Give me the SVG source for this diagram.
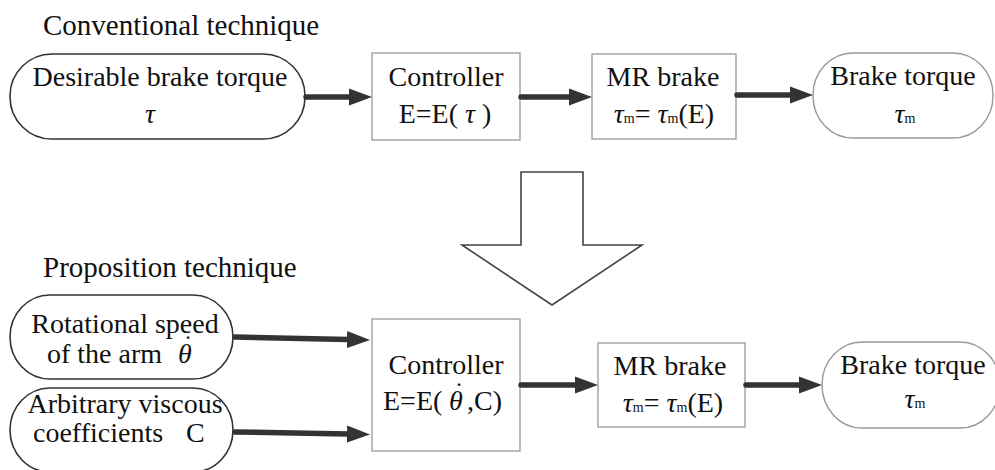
<svg xmlns="http://www.w3.org/2000/svg" width="995" height="470" viewBox="0 0 995 470" font-family="'Liberation Serif', 'Times New Roman', Times, 'DejaVu Serif', serif">
  <style>
    text { font-family: "Liberation Serif", "Times New Roman", Times, "DejaVu Serif", serif; font-size: 28px; fill: #111; }
    .title { font-size: 29px; }
    .c { text-anchor: middle; }
    .gr { font-style: italic; }
    .sub { font-size: 14px; }
    .dot { font-size: 26px; font-style: normal; }
    .term { fill: #fff; stroke: #333; stroke-width: 1.6; }
    .termL { fill: #fff; stroke: #999; stroke-width: 1.4; }
    .box { fill: #fff; stroke: #a0a0a0; stroke-width: 1.4; }
    .link { fill: none; stroke: #333; stroke-width: 5.5; stroke-linecap: round; marker-end: url(#head); }
    .big { fill: #fff; stroke: #444; stroke-width: 1.6; stroke-linejoin: miter; }
  </style>
  <defs>
    <marker id="head" markerUnits="userSpaceOnUse" markerWidth="26" markerHeight="20" viewBox="0 -10 26 20" refX="1" refY="0" orient="auto">
      <path d="M0,-8.5 L23,0 L0,8.5 z" fill="#333"/>
    </marker>
  </defs>

  <!-- section titles -->
  <text class="title" x="43" y="35">Conventional technique</text>
  <text class="title" x="43" y="277">Proposition technique</text>

  <!-- conventional chain -->
  <g id="desired-torque">
    <rect class="term" x="10" y="54" width="295" height="85" rx="42" ry="42"/>
    <text class="c" x="160" y="86">Desirable brake torque</text>
    <text class="c gr" x="150" y="123">τ</text>
  </g>
  <g id="controller-1">
    <rect class="box" x="372" y="53" width="148" height="87"/>
    <text class="c" x="446" y="86">Controller</text>
    <text class="c" x="445" y="123">E=E( <tspan class="gr">τ</tspan> )</text>
  </g>
  <g id="mr-brake-1">
    <rect class="box" x="592" y="54" width="144" height="85"/>
    <text class="c" x="663" y="86">MR brake</text>
    <text class="c" x="664" y="123"><tspan class="gr">τ</tspan><tspan class="sub">m</tspan>= <tspan class="gr">τ</tspan><tspan class="sub">m</tspan>(E)</text>
  </g>
  <g id="brake-torque-1">
    <rect class="termL" x="813" y="53" width="180" height="85" rx="40" ry="42"/>
    <text class="c" x="903" y="85">Brake torque</text>
    <text class="c" x="905" y="123"><tspan class="gr">τ</tspan><tspan class="sub">m</tspan></text>
  </g>

  <!-- transition arrow between the two techniques -->
  <g id="transition">
    <polygon class="big" points="521,172 583,172 583,245 642,245 552,305 462,245 521,245"/>
  </g>

  <!-- proposed chain -->
  <g id="rotational-speed">
    <rect class="term" x="10" y="295" width="223" height="84" rx="40" ry="42"/>
    <text class="c" x="125" y="333">Rotational speed</text>
    <text x="47" y="363">of the arm<tspan class="gr" x="178">θ</tspan><tspan class="dot" dx="-8" dy="-10">˙</tspan></text>
  </g>
  <g id="viscous-coeff">
    <rect class="term" x="10" y="388" width="223" height="84" rx="40" ry="42"/>
    <text class="c" x="125" y="413">Arbitrary viscous</text>
    <text x="33" y="442">coefficients<tspan x="186">C</tspan></text>
  </g>
  <g id="controller-2">
    <rect class="box" x="372" y="319" width="148" height="132"/>
    <text class="c" x="446" y="374">Controller</text>
    <text x="383" y="410">E=E(<tspan class="gr" x="449">θ</tspan><tspan class="dot" dx="-8" dy="-10">˙</tspan><tspan x="467" dy="10">,C)</tspan></text>
  </g>
  <g id="mr-brake-2">
    <rect class="box" x="598" y="343" width="147" height="84"/>
    <text class="c" x="670" y="375">MR brake</text>
    <text class="c" x="673" y="412"><tspan class="gr">τ</tspan><tspan class="sub">m</tspan>= <tspan class="gr">τ</tspan><tspan class="sub">m</tspan>(E)</text>
  </g>
  <g id="brake-torque-2">
    <rect class="termL" x="822" y="342" width="178" height="86" rx="40" ry="43"/>
    <text class="c" x="913" y="374">Brake torque</text>
    <text class="c" x="915" y="408"><tspan class="gr">τ</tspan><tspan class="sub">m</tspan></text>
  </g>

  <!-- connectors -->
  <g id="connectors">
    <line class="link" x1="306" y1="97" x2="350" y2="97"/>
    <line class="link" x1="521" y1="97" x2="570" y2="97"/>
    <line class="link" x1="737" y1="95" x2="791" y2="95"/>
    <line class="link" x1="235" y1="337" x2="348" y2="339.5"/>
    <line class="link" x1="235" y1="432" x2="348" y2="434"/>
    <line class="link" x1="521" y1="385" x2="576" y2="385"/>
    <line class="link" x1="746" y1="385" x2="800" y2="385"/>
  </g>
</svg>
